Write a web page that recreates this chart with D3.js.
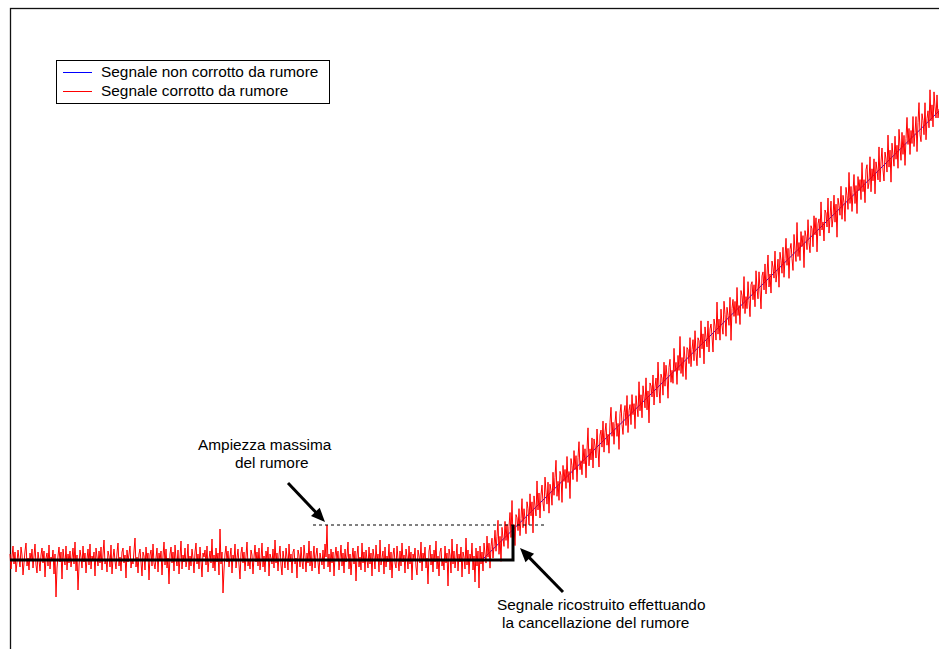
<!DOCTYPE html>
<html><head><meta charset="utf-8">
<script src="https://cdn.jsdelivr.net/npm/d3@7"></script>
<style>
body{margin:0;background:#fff}
svg{display:block}
text{font-family:"Liberation Sans",Arial,sans-serif;font-size:15.4px;fill:#000}
</style>
</head><body>
<svg id="chart" width="939" height="649"></svg>
<script>
// ---- data ----
const legendLabels = ["Segnale non corrotto da rumore", "Segnale corrotto da rumore"];
// clean signal knots (sample index, value)
const cleanT = [0, 472, 930];
const cleanV = [0, 0, 450];
// noise (deviation from clean signal), one value per sample
const noise = [
6,-9,3,14,-4,8,-12,-2,10,1,-7,13,5,-15,-3,9,17,-6,2,-10,7,-1,11,-8,4,16,-5,-13,8,0,
-11,5,12,-3,9,-17,2,7,-6,15,-9,3,-1,10,-14,6,-37,-8,4,13,-2,8,-19,11,1,-5,14,-10,6,-3,
9,-7,2,12,-4,18,-11,5,-30,-6,10,3,-8,14,-2,7,-13,1,11,-5,16,-9,4,-1,8,-16,12,3,-6,9,
-3,13,-10,6,20,-4,1,-12,9,4,-7,15,-14,2,11,-1,-9,7,17,-6,3,-11,8,12,-3,5,-18,10,-2,6,
14,-8,1,-4,9,22,-7,3,-13,6,11,-2,-16,8,4,-10,13,-1,7,-20,5,10,-6,16,-3,-9,2,12,-12,7,
-1,9,-15,4,18,-5,11,-8,2,-24,6,13,-3,8,-11,15,1,-6,10,-14,3,19,-9,5,-2,12,-7,0,16,-10,
4,-6,11,2,-13,8,17,-4,6,-9,13,-1,-17,7,3,10,-5,14,-12,1,9,-3,21,-8,5,-11,12,-2,7,-15,
31,-4,8,-33,-10,6,14,-2,9,-7,3,12,-13,5,-1,16,-8,2,11,-5,-19,7,13,-3,8,-11,4,18,-6,1,
-9,10,5,-14,3,15,-2,8,-6,12,-10,1,17,-7,4,-12,9,-1,13,-16,6,2,-4,11,-8,20,-3,7,-11,5,
14,-5,-15,9,1,-8,12,3,-10,16,-2,6,-13,8,11,-4,2,-18,10,5,-7,13,-1,-9,15,4,-12,7,-3,19,
-6,9,-11,2,14,-8,5,12,-2,-14,7,1,-5,10,-9,16,3,35,-7,6,-12,11,-3,8,-16,4,13,-1,9,-10,
2,15,-6,7,-13,11,-2,4,18,-9,6,-15,1,12,-4,9,-21,5,14,-7,3,-10,17,-3,8,-12,10,0,-8,13,
-4,7,-16,11,3,-9,15,-1,6,-12,20,-5,2,9,-14,13,-7,4,-2,16,-10,8,-18,5,12,-3,-8,14,1,-11,
9,-6,17,-2,5,-13,11,3,-9,14,-4,8,-20,6,1,12,-7,-15,10,4,-3,18,-11,7,-1,13,-8,2,-24,9,
15,-5,6,-12,10,-2,19,-9,4,-16,8,12,-6,1,-10,14,-3,7,-26,11,5,-13,21,-4,9,-8,2,16,-11,6,
-2,13,-17,8,3,-9,22,-5,10,-14,6,-1,17,-10,4,-22,12,-6,9,-28,14,-4,
8,-12,15,3,-7,19,-3,10,-16,5,12,-9,2,17,-5,9,24,-11,6,-20,13,1,-8,16,-4,11,-14,7,20,-6,
30,-10,4,-18,12,8,-6,15,-13,3,22,-8,10,-2,-17,14,6,-11,19,-4,9,-23,13,2,-9,25,-5,11,-15,7,
16,-3,-12,21,5,-8,13,-19,9,2,-14,18,-6,11,27,-10,4,-16,12,7,-21,15,-2,9,-11,20,-7,3,-25,14,
6,-9,19,-1,12,-15,8,23,-6,2,-13,16,-4,10,-20,7,28,-11,5,-7,14,-17,11,3,-10,18,-3,-22,9,13,
-5,20,-12,7,15,-8,2,-18,12,26,-4,9,-14,6,17,-9,3,-24,11,19,-2,-13,8,14,-7,22,-16,5,10,-11,
18,-3,7,-19,13,1,-10,24,-6,9,-15,16,4,-8,21,-12,6,-27,12,8,-4,17,-14,3,11,-9,25,-2,-18,10,
5,-13,19,-6,14,2,-21,9,16,-8,3,-11,23,-1,7,-16,12,-4,29,-9,6,-14,15,1,-20,11,8,-7,18,-12,
4,13,-9,20,-3,-17,10,6,-12,24,-5,9,-22,14,2,-8,17,-15,7,11,-2,-19,13,5,-10,27,-6,8,-14,16,
-1,-11,21,7,-16,12,3,-8,19,-25,6,14,-4,10,-13,22,-7,2,-18,15,9,-5,26,-12,4,-9,17,-3,-20,11,
13,-6,8,-15,20,1,-10,16,-3,-23,9,12,-7,18,-13,5,24,-9,3,-17,14,7,-5,21,-11,-2,10,-19,15,6,
-8,17,-14,4,23,-5,11,-20,8,13,-3,-16,19,2,-10,28,-7,6,-13,15,-1,9,-24,12,5,-9,20,-4,-15,11,
7,-12,18,-2,14,-21,6,10,-8,25,-4,3,-17,13,9,-6,22,-14,1,16,-11,-3,19,-9,8,-26,12,4,-7,21,
-13,10,2,-18,15,6,-9,27,-5,11,-15,3,20,-10,7,-22,14,-1,9,-12,24,-6,5,-19,13,17,-8,-3,22,-14,
8,-5,16,-20,11,2,-9,23,-13,6,19,-4,-16,12,4,-10,26,-7,9,-24,14,1,-11,18,-6,7,-17,21,3,-12,
15,-8,10,-21,5,25,-3,12,-15,8,-6,20,-11,2,17,-19,9,28,-5,-13,14,6,-9,22,-16,4,11,-7,30,-2,
13,-10,24,8,-4,18,-6,2
];
// reconstructed signal after noise cancellation
const reconT = [0, 503, 503];
const reconV = [0, 0, 35];
// max noise amplitude threshold and its drawn extent
const thresholdValue = 35;
const thresholdT = [303, 535];
// annotation arrows (sample index, value)
const arrowTails = [[278, 77], [553, -32]];
const arrowTips = [[315, 38], [510, 12]];
const noteTop = ["Ampiezza massima", "del rumore"];
const noteBottom = ["Segnale ricostruito effettuando", "la cancellazione del rumore"];

// ---- drawing ----
const svg = d3.select("#chart");
const x = d3.scaleLinear().domain([0, 930]).range([10, 940]);
const y = d3.scaleLinear().domain([-90, 552]).range([650, 8]);
const clean = d3.scaleLinear().domain(cleanT).range(cleanV);

// frame
svg.append("rect").attr("x", 10.5).attr("y", 8.5).attr("width", 1000).attr("height", 800)
  .attr("fill", "#fff").attr("stroke", "#111").attr("stroke-width", 1.3);

const line = d3.line().x(d => x(d[0])).y(d => y(d[1]));

// clean (blue)
svg.append("path").datum(cleanT.map((t, i) => [t, cleanV[i]]))
  .attr("d", line).attr("fill", "none").attr("stroke", "#0000ff").attr("stroke-width", 1);

// noisy (red)
svg.append("path").datum(noise.map((n, i) => [i, clean(i) + n]))
  .attr("d", line).attr("fill", "none").attr("stroke", "#ff0000").attr("stroke-width", 1);

// threshold dashed
svg.append("path").datum(thresholdT.map(t => [t, thresholdValue]))
  .attr("d", line).attr("fill", "none").attr("stroke", "#000").attr("stroke-width", 1)
  .attr("stroke-dasharray", "3,3");

// reconstructed (black)
svg.append("path").datum(reconT.map((t, i) => [t, reconV[i]]))
  .attr("d", line).attr("fill", "none").attr("stroke", "#000").attr("stroke-width", 3)
  .attr("stroke-linejoin", "miter");

// arrows
arrowTails.forEach((tail, k) => {
  const tip = arrowTips[k];
  const x0 = x(tail[0]), y0 = y(tail[1]), x1 = x(tip[0]), y1 = y(tip[1]);
  const ang = Math.atan2(y1 - y0, x1 - x0);
  const L = 14, W = 6;
  const bx = x1 - L * Math.cos(ang), by = y1 - L * Math.sin(ang);
  svg.append("line").attr("x1", x0).attr("y1", y0).attr("x2", bx + 2 * Math.cos(ang)).attr("y2", by + 2 * Math.sin(ang))
    .attr("stroke", "#000").attr("stroke-width", 3);
  const px = -Math.sin(ang), py = Math.cos(ang);
  svg.append("path").attr("d", `M${x1},${y1}L${bx + W * px},${by + W * py}L${bx - W * px},${by - W * py}Z`)
    .attr("fill", "#000");
});

// annotation texts
svg.append("text").attr("x", 198).attr("y", 450).text(noteTop[0]);
svg.append("text").attr("x", 235).attr("y", 468).text(noteTop[1]);
svg.append("text").attr("x", 497).attr("y", 610).text(noteBottom[0]);
svg.append("text").attr("x", 502).attr("y", 628).text(noteBottom[1]);

// legend
const lg = svg.append("g");
lg.append("rect").attr("x", 56.5).attr("y", 60.5).attr("width", 273).attr("height", 43)
  .attr("fill", "#fff").attr("stroke", "#000").attr("stroke-width", 1);
const legendColors = ["#0000ff", "#ff0000"];
legendLabels.forEach((lab, i) => {
  const yy = 72 + i * 19;
  lg.append("line").attr("x1", 63).attr("x2", 92).attr("y1", yy + 0.5).attr("y2", yy + 0.5)
    .attr("stroke", legendColors[i]).attr("stroke-width", 1);
  lg.append("text").attr("x", 101).attr("y", yy + 5).text(lab);
});
</script>
</body></html>
